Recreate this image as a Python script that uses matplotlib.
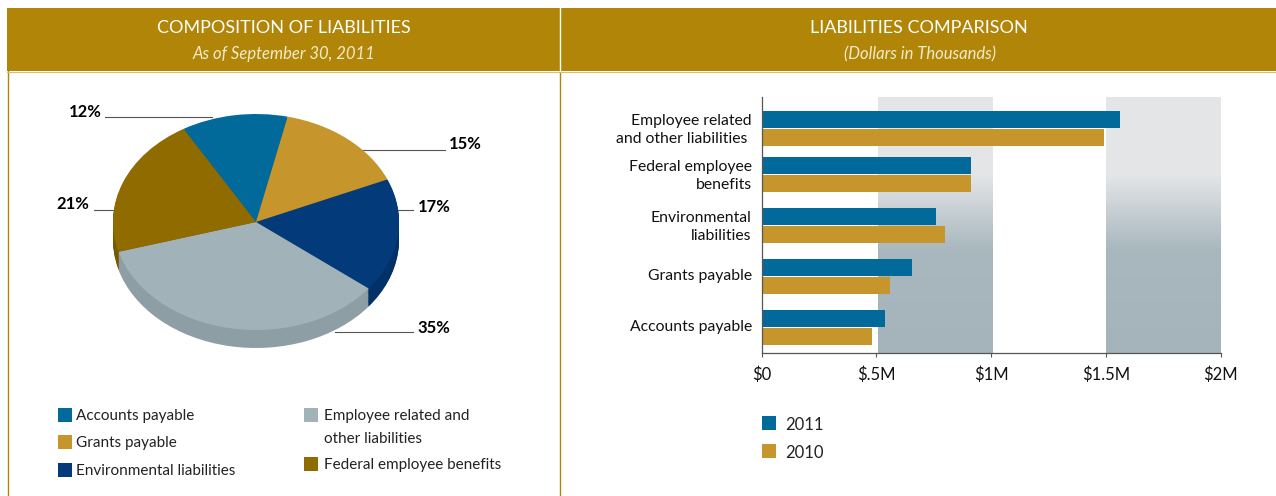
import numpy as np
import matplotlib
matplotlib.use('Agg')
import matplotlib.pyplot as plt
from matplotlib.colors import LinearSegmentedColormap
from matplotlib.patches import Rectangle
from matplotlib.transforms import ScaledTranslation

plt.rcParams['font.family'] = ['Lato', 'Liberation Sans', 'DejaVu Sans']

W, H = 1276, 496

# pie data, clockwise from the top left
pie_labels = ['Accounts payable', 'Grants payable', 'Environmental liabilities',
              'Employee related and\nother liabilities', 'Federal employee benefits']
pie_values = [12, 15, 17, 35, 21]
pie_colors = ['#026A9A', '#C6962C', '#023A7A', '#A1B2B9', '#8F6B00']
side_colors = ['#025A84', '#A67D22', '#02316A', '#8E9EA5', '#775900']

# bar data, in $M
bar_categories = ['Employee related\nand other liabilities ', 'Federal employee\nbenefits',
                  'Environmental\nliabilities', 'Grants payable', 'Accounts payable']
values_2011 = [1.56, 0.913, 0.759, 0.655, 0.537]
values_2010 = [1.491, 0.913, 0.798, 0.56, 0.481]
tick_values = [0, 0.5, 1, 1.5, 2]
tick_labels = ['$0', '$.5M', '$1M', '$1.5M', '$2M']
group_y = [128.3, 174.3, 225.3, 276.3, 327.3]  # pixel rows

gold = '#B08508'
c2011 = '#026A9A'
c2010 = '#C6962C'


def px_axes(left, top, right, bottom):
    return fig.add_axes([left / W, 1 - bottom / H, (right - left) / W, (bottom - top) / H])


fig = plt.figure(figsize=(W / 100, H / 100), dpi=100)

# page layer in pixel coordinates
bg = fig.add_axes([0, 0, 1, 1])
bg.set_xlim(0, W)
bg.set_ylim(H, 0)
bg.axis('off')
bg.add_patch(Rectangle((7, 8), W - 7, 63, color=gold, lw=0))
bg.plot([7.5, 7.5], [71, H], color=gold, lw=1)
bg.plot([560, 560], [71, H], color=gold, lw=1)
bg.plot([560, 560], [8, 71], color='white', lw=1)
bg.plot([7, W], [71.5, 71.5], color='#D9BE6E', lw=0.8)

bg.text(284, 28, 'COMPOSITION OF LIABILITIES', color='white', fontsize=13, ha='center', va='center')
bg.text(284, 54, 'As of September 30, 2011', color='#F5EBCB', fontsize=12, style='italic', ha='center', va='center')
bg.text(919, 28, 'LIABILITIES COMPARISON', color='white', fontsize=13, ha='center', va='center')
bg.text(920, 54, '(Dollars in Thousands)', color='#F5EBCB', fontsize=12, style='italic', ha='center', va='center')

# pie, squashed to an ellipse with a stack of darker copies as the rim
rx, ry, depth = 143, 108, 18
pie_ax = px_axes(256 - 1.2 * rx, 222 - 1.2 * ry, 256 + 1.2 * rx, 222 + 1.2 * ry + depth)
for off in np.linspace(depth / ry, 0.01, 16):
    pie_ax.pie(pie_values, colors=side_colors, startangle=120.4, counterclock=False,
               center=(0, -off), wedgeprops={'linewidth': 0})
pie_ax.pie(pie_values, colors=pie_colors, startangle=120.4, counterclock=False,
           wedgeprops={'linewidth': 0})
pie_ax.set_aspect('auto')
pie_ax.set_xlim(-1.2, 1.2)
pie_ax.set_ylim(-1.2 - depth / ry, 1.2)

# leader lines and percent labels
leaders = [(105, 212, 117), (359, 445, 150), (397, 413, 210), (94, 113, 210), (335, 413, 332)]
label_pos = [(85, 112), (465, 144), (434, 207), (73, 204), (434, 328)]
label_order = [0, 1, 2, 4, 3]
for (x0, x1, y), (tx, ty), i in zip(leaders, label_pos, label_order):
    bg.plot([x0, x1], [y, y], color='#555555', lw=0.8, zorder=1)
    bg.text(tx, ty, '%d%%' % pie_values[i], color='black', fontsize=12, ha='center', va='center', fontweight='bold')

# pie legend
legend_pos = [(58, 415), (58, 442), (58, 470), (304, 415), (304, 464)]
for (x, y), label, color in zip(legend_pos, pie_labels, pie_colors):
    bg.add_patch(Rectangle((x, y - 7), 14, 14, color=color, lw=0))
    tx = x + 18 if x < 100 else x + 20
    for n, line in enumerate(label.split('\n')):
        bg.text(tx, y + 1 + 23 * n, line, fontsize=11, color='#222222', va='center')

# bars, y axis runs in pixel rows so the uneven group gaps are kept
ax = px_axes(761.5, 97, 1220.7, 353)
ax.set_xlim(0, 2)
ax.set_ylim(353, 97)

band = LinearSegmentedColormap.from_list('band', ['#E4E5E7', '#E4E5E7', '#A8B8BE', '#A4B4BA'], N=256)
ramp = np.interp(np.arange(97, 353), [97, 174, 250, 353], [0, 0.33, 0.67, 1]).reshape(-1, 1)
for x0, x1 in [(0.507, 1.007), (1.5, 2.0)]:
    ax.imshow(ramp, cmap=band, vmin=0, vmax=1, aspect='auto', extent=(x0, x1, 353, 97), zorder=0)
ax.set_xlim(0, 2)
ax.set_ylim(353, 97)

group_y = np.array(group_y)
ax.barh(group_y - 8.9, values_2011, height=16.7, color=c2011, zorder=2)
ax.barh(group_y + 8.9, values_2010, height=16.7, color=c2010, zorder=2)

ax.set_yticks(group_y)
ax.set_yticklabels(bar_categories, fontsize=11.3, color='#111111', linespacing=1.4)
ax.tick_params(axis='y', length=0, pad=7)
for lab in ax.get_yticklabels():
    lab.set_transform(lab.get_transform() + ScaledTranslation(0, 1.5 / 72, fig.dpi_scale_trans))
ax.set_xticks(tick_values)
ax.set_xticklabels(tick_labels, fontsize=12, color='#111111')
ax.tick_params(axis='x', length=3, width=0.8, color='#555555', pad=7)
for side in ['top', 'right']:
    ax.spines[side].set_visible(False)
for side in ['left', 'bottom']:
    ax.spines[side].set_color('#555555')
    ax.spines[side].set_linewidth(0.9)

# bar legend
for y, label, color in [(423, '2011', c2011), (451, '2010', c2010)]:
    bg.add_patch(Rectangle((762, y - 7), 14, 14, color=color, lw=0))
    bg.text(785, y + 1.5, label, fontsize=12, color='#222222', va='center')

fig.savefig('out.png', dpi=100)
